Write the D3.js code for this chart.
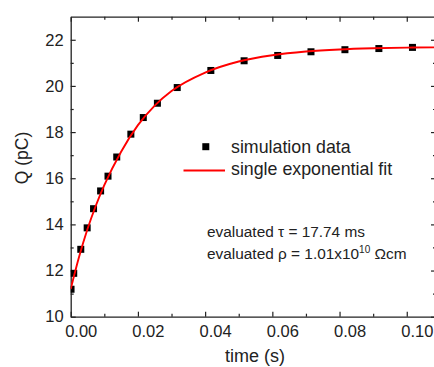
<!DOCTYPE html>
<html>
<head>
<meta charset="utf-8">
<script src="https://cdn.jsdelivr.net/npm/d3@7"></script>
<style>
  body { margin: 0; background: #fff; }
  svg text { font-family: "Liberation Sans", Arial, sans-serif; fill: #222; }
</style>
</head>
<body>
<div id="chart"></div>
<script>
// simulation points
var simTime = [0.0001, 0.0009, 0.003, 0.0049, 0.0068, 0.0089, 0.0111, 0.0137, 0.0179, 0.0216,
               0.0258, 0.0317, 0.0417, 0.0516, 0.0616, 0.0715, 0.0816, 0.0917, 0.1017];
var simQ = [11.19, 11.88, 12.92, 13.85, 14.68, 15.45, 16.09, 16.92, 17.91, 18.63,
            19.25, 19.93, 20.67, 21.09, 21.32, 21.48, 21.57, 21.62, 21.67];

// fit curve
var fitTime = [0, 0.0025, 0.005, 0.0075, 0.01, 0.015, 0.02, 0.025, 0.03, 0.04, 0.05, 0.06, 0.07, 0.08, 0.09, 0.1, 0.109];
var fitQ = [11.2, 12.6, 13.8, 14.82, 15.7, 17.15, 18.3, 19.15, 19.78, 20.58, 21.06, 21.33, 21.49, 21.58, 21.63, 21.66, 21.67];

var xTicks = [0, 0.02, 0.04, 0.06, 0.08, 0.10];
var xMinor = [0.01, 0.03, 0.05, 0.07, 0.09];
var yTicks = [10, 12, 14, 16, 18, 20, 22];
var yMinor = [11, 13, 15, 17, 19, 21];

var legendLabels = ["simulation data", "single exponential fit"];

var W = 434, H = 367;
var margin = { top: 16.7, left: 70.7, right: -2, bottom: 50.3 };
var width = W - margin.left - margin.right;
var height = H - margin.top - margin.bottom;

var svg = d3.select("#chart").append("svg")
    .attr("width", W)
    .attr("height", H);

var g = svg.append("g")
    .attr("transform", "translate(" + margin.left + "," + margin.top + ")");

var x = d3.scaleLinear().domain([0, 0.1087]).range([0, width]);
var y = d3.scaleLinear().domain([10, 23]).range([height, 0]);

// clip for the data
g.append("clipPath").attr("id", "clip")
  .append("rect").attr("width", width).attr("height", height);

// axes, ticks pointing inward
function styleAxis(sel) {
  sel.select(".domain").attr("stroke", "#222").attr("stroke-width", 1.3);
  sel.selectAll(".tick line").attr("stroke", "#222").attr("stroke-width", 1.2);
}

var xAxis = d3.axisBottom(x).tickValues(xTicks).tickSizeInner(-5).tickSizeOuter(0)
    .tickFormat(d3.format(".2f"));
var gx = g.append("g").attr("transform", "translate(0," + height + ")").call(xAxis);
styleAxis(gx);
gx.selectAll(".tick text")
  .attr("dx", 10).attr("y", 9).attr("dy", "0.71em")
  .style("font-size", "16.5px");

g.append("g").attr("transform", "translate(0," + height + ")")
  .call(d3.axisBottom(x).tickValues(xMinor).tickSizeInner(-3).tickSizeOuter(0).tickFormat(""))
  .call(styleAxis).select(".domain").remove();

var gxTop = g.append("g")
  .call(d3.axisTop(x).tickValues(xTicks).tickSizeInner(-5).tickSizeOuter(0).tickFormat(""));
styleAxis(gxTop);
g.append("g")
  .call(d3.axisTop(x).tickValues(xMinor).tickSizeInner(-3).tickSizeOuter(0).tickFormat(""))
  .call(styleAxis).select(".domain").remove();

var yAxis = d3.axisLeft(y).tickValues(yTicks).tickSizeInner(-5).tickSizeOuter(0);
var gy = g.append("g").call(yAxis);
styleAxis(gy);
gy.selectAll(".tick text")
  .attr("x", -7)
  .style("font-size", "16.5px");

g.append("g")
  .call(d3.axisLeft(y).tickValues(yMinor).tickSizeInner(-3).tickSizeOuter(0).tickFormat(""))
  .call(styleAxis).select(".domain").remove();

var gyRight = g.append("g").attr("transform", "translate(" + width + ",0)")
  .call(d3.axisRight(y).tickValues(yTicks).tickSizeInner(-5).tickSizeOuter(0).tickFormat(""));
styleAxis(gyRight);
g.append("g").attr("transform", "translate(" + width + ",0)")
  .call(d3.axisRight(y).tickValues(yMinor).tickSizeInner(-3).tickSizeOuter(0).tickFormat(""))
  .call(styleAxis).select(".domain").remove();

g.selectAll(".tick text").style("fill", "#222");

// axis titles
g.append("text")
  .attr("transform", "translate(" + (28 - margin.left) + "," + (158 - margin.top) + ") rotate(-90)")
  .style("text-anchor", "middle")
  .style("font-size", "17.5px")
  .text("Q (pC)");

g.append("text")
  .attr("x", 255 - margin.left)
  .attr("y", 362 - margin.top)
  .style("text-anchor", "middle")
  .style("font-size", "18px")
  .text("time (s)");

// fit line
var fitData = fitTime.map(function(t, i) { return { t: t, q: fitQ[i] }; });
var line = d3.line()
  .x(function(d) { return x(d.t); })
  .y(function(d) { return y(d.q); })
  .curve(d3.curveMonotoneX);

var plot = g.append("g").attr("clip-path", "url(#clip)");

// simulation squares
var simData = simTime.map(function(t, i) { return { t: t, q: simQ[i] }; });
plot.selectAll(".sim")
  .data(simData)
  .enter().append("rect")
  .attr("class", "sim")
  .attr("x", function(d) { return x(d.t) - 3.5; })
  .attr("y", function(d) { return y(d.q) - 3.5; })
  .attr("width", 7)
  .attr("height", 7)
  .attr("fill", "#000");

plot.append("path")
  .datum(fitData)
  .attr("fill", "none")
  .attr("stroke", "#f00")
  .attr("stroke-width", 1.9)
  .attr("d", line);

// legend
var leg = svg.append("g");
leg.append("rect")
  .attr("x", 202.3).attr("y", 143.2)
  .attr("width", 7).attr("height", 7)
  .attr("fill", "#000");
leg.append("line")
  .attr("x1", 183.5).attr("x2", 225)
  .attr("y1", 170.5).attr("y2", 170.5)
  .attr("stroke", "#f00").attr("stroke-width", 1.9);
leg.selectAll(".leg-text")
  .data(legendLabels)
  .enter().append("text")
  .attr("class", "leg-text")
  .attr("x", 231)
  .attr("y", function(d, i) { return 153.3 + i * 22; })
  .style("font-size", "17.8px")
  .text(function(d) { return d; });

// fit results
var note = svg.append("g").style("font-size", "15.4px");
note.append("text")
  .attr("x", 207).attr("y", 237.3)
  .text("evaluated \u03c4 = 17.74 ms");
var t2 = note.append("text")
  .attr("x", 207).attr("y", 258.7);
t2.append("tspan").text("evaluated \u03c1 = 1.01x10");
t2.append("tspan").attr("dy", -6).style("font-size", "10px").text("10");
t2.append("tspan").attr("dy", 6).text(" \u03a9cm");
</script>
</body>
</html>
